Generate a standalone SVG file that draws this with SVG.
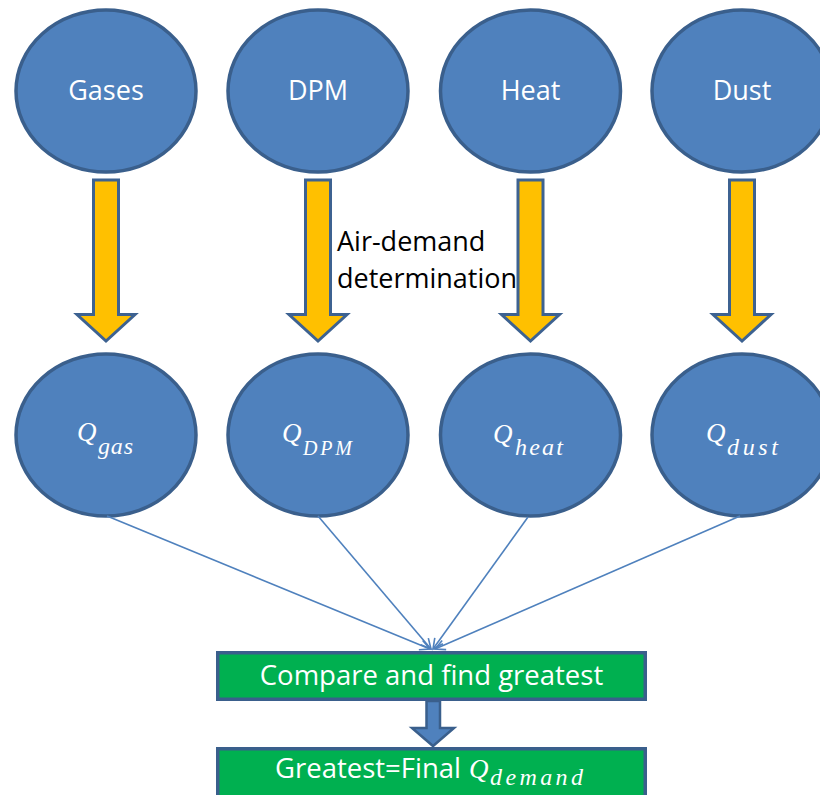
<svg xmlns="http://www.w3.org/2000/svg" width="820" height="795" viewBox="0 0 820 795">
<style>
.node ellipse{fill:#4F81BD;stroke:#3A5F8C;stroke-width:3.5}
.lbl{font-family:"Open Sans","Liberation Sans",sans-serif;font-size:27px;fill:#FFFFFF;text-anchor:middle}
.q{font-family:"Liberation Serif","DejaVu Serif",serif;font-style:italic;font-size:27px;fill:#FFFFFF}
.sub{font-family:"Liberation Serif","DejaVu Serif",serif;font-style:italic;font-size:24px;fill:#FFFFFF}
.yarrow{fill:#FFC000;stroke:#3D6291;stroke-width:3;stroke-linejoin:miter}
.conn{stroke:#4F81BD;stroke-width:1.6;fill:none}
.box rect{fill:#00B050;stroke:#3A5F8C;stroke-width:3.5}
.boxt{font-family:"Open Sans","Liberation Sans",sans-serif;font-size:27.5px;fill:#FFFFFF}
.note{font-family:"Open Sans","Liberation Sans",sans-serif;font-size:27px;fill:#000000}
</style>
<defs>
<marker id="open" markerUnits="userSpaceOnUse" markerWidth="14" markerHeight="14" refX="11" refY="6" orient="auto">
<path d="M1,1 L11,6 L1,11" fill="none" stroke="#4F81BD" stroke-width="1.6"/>
</marker>
<path id="yar" d="M-12.5,180 H12.5 V314.5 H29 L0,341 L-29,314.5 H-12.5 Z"/>
</defs>

<g id="gases" class="node"><ellipse cx="106" cy="91" rx="90" ry="81"/><text class="lbl" x="106" y="100">Gases</text></g>
<g id="dpm" class="node"><ellipse cx="318" cy="91" rx="90" ry="81"/><text class="lbl" x="318" y="100">DPM</text></g>
<g id="heat" class="node"><ellipse cx="530.5" cy="91" rx="90" ry="81"/><text class="lbl" x="530.5" y="100">Heat</text></g>
<g id="dust" class="node"><ellipse cx="742" cy="91" rx="90" ry="81"/><text class="lbl" x="742" y="100">Dust</text></g>

<g id="air-demand-arrows">
<use href="#yar" class="yarrow" transform="translate(106,0)"/>
<use href="#yar" class="yarrow" transform="translate(318,0)"/>
<use href="#yar" class="yarrow" transform="translate(530.5,0)"/>
<use href="#yar" class="yarrow" transform="translate(742,0)"/>
</g>
<g id="air-demand-label">
<text class="note" x="337" y="251">Air-demand</text>
<text class="note" x="337" y="288">determination</text>
</g>

<g id="qgas" class="node"><ellipse cx="106" cy="435" rx="90" ry="81"/><text class="q" x="77" y="441">Q</text><text class="sub" x="98" y="454" textLength="35" lengthAdjust="spacing">gas</text></g>
<g id="qdpm" class="node"><ellipse cx="318" cy="435" rx="90" ry="81"/><text class="q" x="282" y="442">Q</text><text class="sub" x="303" y="455" textLength="49" lengthAdjust="spacing" style="font-size:20px">DPM</text></g>
<g id="qheat" class="node"><ellipse cx="530.5" cy="435" rx="90" ry="81"/><text class="q" x="493" y="443">Q</text><text class="sub" x="515" y="455" textLength="48" lengthAdjust="spacing">heat</text></g>
<g id="qdust" class="node"><ellipse cx="742" cy="435" rx="90" ry="81"/><text class="q" x="706" y="442">Q</text><text class="sub" x="727" y="455" textLength="51" lengthAdjust="spacing">dust</text></g>

<g id="connectors">
<line class="conn" x1="107" y1="516" x2="430" y2="649" marker-end="url(#open)"/>
<line class="conn" x1="318" y1="516" x2="431" y2="649" marker-end="url(#open)"/>
<line class="conn" x1="528" y1="517" x2="433" y2="649" marker-end="url(#open)"/>
<line class="conn" x1="740" y1="516" x2="435" y2="649" marker-end="url(#open)"/>
<path d="M426.5,701 H440 V728 H454 L433,746 L412,728 H426.5 Z" fill="#4F81BD" stroke="#3A5F8C" stroke-width="2.5"/>
</g>

<g id="compare" class="box"><rect x="217.75" y="652.75" width="427.5" height="46.5"/><text class="boxt" x="431.5" y="685" text-anchor="middle">Compare and find greatest</text></g>
<g id="final" class="box"><rect x="217.75" y="748.75" width="427.5" height="60"/><text class="boxt" x="275" y="778">Greatest=Final </text><text class="q" x="469" y="778">Q</text><text class="sub" x="490" y="785" textLength="93" lengthAdjust="spacing">demand</text></g>
</svg>
